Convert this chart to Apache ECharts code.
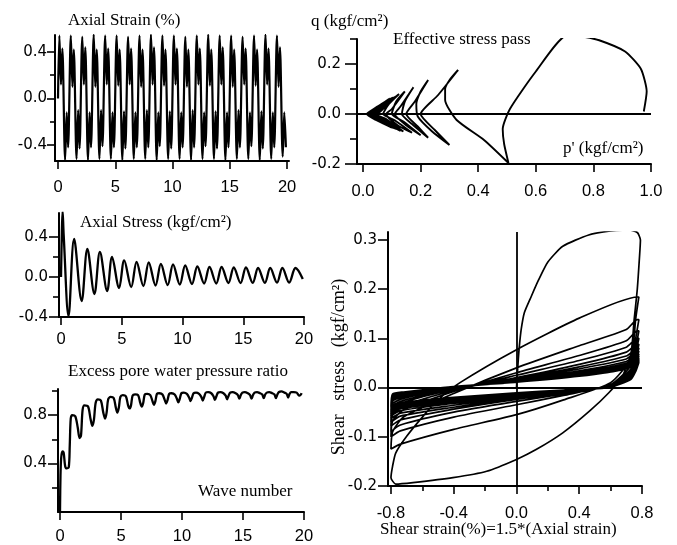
<!DOCTYPE html>
<html><head><meta charset="utf-8">
<script src="https://cdn.jsdelivr.net/npm/echarts/dist/echarts.min.js"></script>
<style>html,body{margin:0;padding:0;background:#fff}#c{width:677px;height:545px}</style>
</head><body><div id="c"></div>
<script>
// ---------- DATA ----------
// Panel 1: axial strain (%) vs wave number
const strainPts = [[0,0],
[0.12,0.54],[0.26,0.12],[0.38,0.43],[0.62,-0.53],[0.76,-0.12],[0.88,-0.42],
[1.12,0.54],[1.26,0.10],[1.38,0.42],[1.62,-0.52],[1.76,-0.10],[1.88,-0.43],
[2.12,0.53],[2.26,0.12],[2.38,0.44],[2.62,-0.53],[2.76,-0.12],[2.88,-0.42],
[3.12,0.55],[3.26,0.10],[3.38,0.42],[3.62,-0.52],[3.76,-0.10],[3.88,-0.41],
[4.12,0.54],[4.26,0.12],[4.38,0.43],[4.62,-0.52],[4.76,-0.12],[4.88,-0.42],
[5.12,0.54],[5.26,0.11],[5.38,0.42],[5.62,-0.53],[5.76,-0.11],[5.88,-0.43],
[6.12,0.53],[6.26,0.12],[6.38,0.43],[6.62,-0.52],[6.76,-0.12],[6.88,-0.42],
[7.12,0.54],[7.26,0.10],[7.38,0.42],[7.62,-0.52],[7.76,-0.10],[7.88,-0.42],
[8.12,0.55],[8.26,0.12],[8.38,0.44],[8.62,-0.53],[8.76,-0.12],[8.88,-0.41],
[9.12,0.54],[9.26,0.11],[9.38,0.42],[9.62,-0.52],[9.76,-0.11],[9.88,-0.43],
[10.12,0.54],[10.26,0.12],[10.38,0.43],[10.62,-0.52],[10.76,-0.12],[10.88,-0.42],
[11.12,0.53],[11.26,0.10],[11.38,0.42],[11.62,-0.53],[11.76,-0.10],[11.88,-0.42],
[12.12,0.54],[12.26,0.12],[12.38,0.43],[12.62,-0.52],[12.76,-0.12],[12.88,-0.41],
[13.12,0.55],[13.26,0.11],[13.38,0.42],[13.62,-0.52],[13.76,-0.11],[13.88,-0.43],
[14.12,0.54],[14.26,0.12],[14.38,0.44],[14.62,-0.53],[14.76,-0.12],[14.88,-0.42],
[15.12,0.54],[15.26,0.10],[15.38,0.42],[15.62,-0.52],[15.76,-0.10],[15.88,-0.42],
[16.12,0.53],[16.26,0.12],[16.38,0.43],[16.62,-0.52],[16.76,-0.12],[16.88,-0.41],
[17.12,0.54],[17.26,0.11],[17.38,0.42],[17.62,-0.53],[17.76,-0.11],[17.88,-0.43],
[18.12,0.55],[18.26,0.12],[18.38,0.43],[18.62,-0.52],[18.76,-0.12],[18.88,-0.42],
[19.12,0.54],[19.26,0.10],[19.38,0.44],[19.62,-0.50],[19.76,-0.12],[19.9,-0.42]];

// Panel 3: axial stress (kgf/cm2) vs wave number
const stressPts = [[0,0],[0.07,0.45],[0.13,0.66],[0.22,0.42],[0.62,-0.39],[1.08,0.38],[1.7,-0.24],
[2.17,0.28],[2.75,-0.17],[3.2,0.25],[3.8,-0.14],[4.2,0.2],[4.78,-0.11],[5.2,0.165],[5.78,-0.10],
[6.22,0.15],[6.78,-0.09],[7.22,0.145],[7.78,-0.085],[8.22,0.13],[8.78,-0.08],[9.22,0.125],[9.78,-0.075],
[10.22,0.115],[10.78,-0.07],[11.22,0.105],[11.78,-0.065],[12.22,0.10],[12.78,-0.065],[13.22,0.10],[13.78,-0.06],
[14.22,0.095],[14.78,-0.06],[15.22,0.095],[15.78,-0.058],[16.22,0.09],[16.78,-0.058],[17.22,0.09],[17.78,-0.056],
[18.22,0.09],[18.78,-0.055],[19.3,0.09],[19.9,-0.02]];

// Panel 4: excess pore water pressure ratio vs wave number
const porePts = [[0,0],[0.04,0.3],[0.1,0.45],[0.2,0.5],[0.3,0.49],[0.42,0.38],[0.55,0.36],[0.72,0.37],[0.8,0.55],
[0.88,0.77],[1.0,0.80],[1.25,0.79],[1.45,0.70],[1.6,0.61],[1.72,0.63],[1.85,0.84],[2.0,0.88],[2.3,0.87],
[2.5,0.77],[2.65,0.71],[2.78,0.76],[2.92,0.90],[3.1,0.93],[3.35,0.92],[3.55,0.82],[3.7,0.77],[3.82,0.82],
[3.95,0.93],[4.15,0.95],[4.4,0.94],[4.58,0.86],[4.7,0.82],[4.82,0.86],[4.95,0.95],[5.15,0.965],[5.4,0.955],
[5.58,0.88],[5.7,0.855],[5.82,0.88],[5.95,0.96],[6.15,0.97],[6.4,0.965],[6.58,0.9],[6.7,0.87],[6.82,0.9],
[6.95,0.97],[7.15,0.975],[7.4,0.965],[7.58,0.915],[7.7,0.885],[7.82,0.915],[7.95,0.975],[8.15,0.98],[8.4,0.97],
[8.58,0.925],[8.7,0.895],[8.82,0.925],[8.95,0.975],[9.15,0.98],[9.4,0.97],[9.58,0.935],[9.7,0.905],[9.82,0.935],
[9.95,0.98],[10.15,0.985],[10.4,0.975],[10.58,0.945],[10.7,0.915],[10.82,0.945],[10.95,0.98],[11.15,0.985],
[11.4,0.975],[11.58,0.95],[11.7,0.92],[11.82,0.95],[11.95,0.985],[12.15,0.99],[12.4,0.98],[12.58,0.955],
[12.7,0.925],[12.82,0.955],[12.95,0.985],[13.15,0.99],[13.4,0.98],[13.58,0.96],[13.7,0.93],[13.82,0.96],
[13.95,0.985],[14.15,0.99],[14.4,0.98],[14.58,0.965],[14.7,0.935],[14.82,0.965],[14.95,0.985],[15.15,0.99],
[15.4,0.98],[15.58,0.965],[15.7,0.935],[15.82,0.965],[15.95,0.985],[16.15,0.99],[16.4,0.98],[16.58,0.97],
[16.7,0.94],[16.82,0.97],[16.95,0.985],[17.15,0.99],[17.4,0.98],[17.58,0.97],[17.7,0.94],[17.82,0.97],
[17.95,0.99],[18.15,0.995],[18.4,0.985],[18.58,0.975],[18.7,0.945],[18.82,0.975],[18.95,0.99],[19.15,0.99],
[19.4,0.985],[19.6,0.96],[19.75,0.97],[19.8,0.98]];

// Panel 2: effective stress path (p', q)
const pathPts = [
[0.975,0.01],[0.985,0.09],[0.965,0.18],[0.91,0.25],[0.82,0.295],[0.76,0.31],[0.71,0.316],
[0.60,0.17],[0.51,0.02],[0.485,-0.06],[0.49,-0.12],[0.505,-0.196],
[0.42,-0.104],[0.325,-0.024],[0.285,0.056],[0.285,0.10],[0.30,0.135],[0.33,0.176],
[0.26,0.075],[0.20,0.0],[0.25,-0.065],[0.30,-0.124],
[0.24,-0.07],[0.19,-0.01],[0.185,0.04],[0.20,0.09],[0.226,0.136],
[0.18,0.05],[0.15,0.0],[0.19,-0.05],[0.226,-0.095],
[0.17,-0.04],[0.135,0.0],[0.145,0.05],[0.175,0.107],
[0.13,0.03],[0.11,0.0],[0.15,-0.045],[0.20,-0.085],
[0.14,-0.03],[0.10,0.0],[0.115,0.05],[0.145,0.09],
[0.10,0.02],[0.08,0.0],[0.12,-0.045],[0.17,-0.075],
[0.11,-0.025],[0.07,0.0],[0.09,0.04],[0.125,0.08],
[0.06,0.01],[0.05,0.0],[0.09,-0.04],[0.14,-0.07],
[0.08,-0.02],[0.045,0.0],[0.08,0.04],[0.12,0.075],
[0.05,0.01],[0.04,0.0],[0.08,-0.035],[0.13,-0.068],
[0.07,-0.02],[0.035,0.0],[0.07,0.035],[0.115,0.07],
[0.04,0.005],[0.03,0.0],[0.07,-0.03],[0.125,-0.065],
[0.06,-0.015],[0.028,0.0],[0.065,0.035],[0.11,0.068],
[0.035,0.005],[0.025,0.0],[0.065,-0.03],[0.12,-0.062],
[0.055,-0.015],[0.022,0.0],[0.06,0.033],[0.105,0.066],
[0.03,0.005],[0.02,0.0],[0.06,-0.03],[0.115,-0.06],
[0.05,-0.012],[0.018,0.0],[0.055,0.03],[0.10,0.064],
[0.028,0.004],[0.016,0.0],[0.055,-0.028],[0.11,-0.058],
[0.045,-0.01],[0.015,0.0],[0.05,0.03],[0.095,0.062],
[0.025,0.003],[0.014,0.0],[0.05,-0.027],[0.105,-0.056],
[0.04,-0.01],[0.013,0.0],[0.05,0.028],[0.09,0.06],
[0.022,0.003],[0.013,0.0],[0.05,-0.026],[0.10,-0.055],
[0.04,-0.008],[0.013,0.0],[0.045,0.025],[0.085,0.055],
[0.02,0.003],[0.013,0.0],[0.045,-0.024],[0.095,-0.052],
[0.035,-0.006],[0.013,0.0],[0.04,0.022],[0.08,0.05],
[0.02,0.002],[0.013,0.0]];

// Panel 5: shear stress vs shear strain, first loading + first unloading + reloading
const hystFirst = [[0,0],[0.01,0.05],[0.018,0.083],[0.03,0.118],[0.05,0.152],[0.094,0.185],[0.14,0.218],
[0.2,0.255],[0.295,0.287],[0.46,0.31],[0.6,0.318],[0.72,0.32],[0.77,0.315],[0.79,0.30],[0.785,0.27],
[0.77,0.2],[0.75,0.138],[0.73,0.07],[0.675,0.023],[0.59,-0.01],[0.465,-0.048],[0.295,-0.092],[0.125,-0.126],
[0,-0.146],[-0.19,-0.17],[-0.405,-0.183],[-0.66,-0.193],[-0.77,-0.196],[-0.8,-0.183],[-0.79,-0.16],
[-0.77,-0.133],[-0.70,-0.099],[-0.6,-0.06],[-0.5,-0.025],[-0.36,0.01],[0,0.077],[0.4,0.141],[0.77,0.184]];
// later loops: stress read at fixed strain stations
const downStrain = [0.78, 0.76, 0.73, 0.60, 0.30, 0.00, -0.40, -0.74, -0.80];
const upStrain = [-0.79, -0.72, -0.40, 0.00, 0.40, 0.70, 0.77];
const loopDown = [
[0.184,0.14,0.06,0.01,-0.025,-0.055,-0.085,-0.115,-0.125],
[0.138,0.10,0.045,0.006,-0.016,-0.035,-0.06,-0.088,-0.10],
[0.115,0.08,0.038,0.005,-0.013,-0.028,-0.05,-0.076,-0.09],
[0.10,0.07,0.033,0.004,-0.012,-0.024,-0.044,-0.066,-0.078],
[0.088,0.06,0.03,0.004,-0.011,-0.021,-0.04,-0.058,-0.07],
[0.08,0.054,0.027,0.003,-0.01,-0.019,-0.036,-0.052,-0.063],
[0.074,0.05,0.025,0.003,-0.009,-0.017,-0.032,-0.047,-0.058],
[0.068,0.046,0.023,0.002,-0.008,-0.016,-0.029,-0.043,-0.054],
[0.064,0.043,0.022,0.002,-0.008,-0.015,-0.027,-0.04,-0.05],
[0.06,0.04,0.021,0.002,-0.007,-0.014,-0.025,-0.038,-0.048],
[0.058,0.038,0.02,0.001,-0.007,-0.013,-0.024,-0.036,-0.046],
[0.056,0.037,0.019,0.001,-0.007,-0.013,-0.023,-0.035,-0.044],
[0.055,0.036,0.019,0.001,-0.006,-0.012,-0.022,-0.034,-0.043],
[0.054,0.035,0.018,0.001,-0.006,-0.012,-0.022,-0.033,-0.042],
[0.053,0.035,0.018,0.001,-0.006,-0.012,-0.021,-0.033,-0.041],
[0.052,0.034,0.018,0.001,-0.006,-0.011,-0.021,-0.032,-0.04],
[0.052,0.034,0.017,0.001,-0.005,-0.011,-0.021,-0.032,-0.04],
[0.051,0.033,0.017,0.001,-0.005,-0.011,-0.02,-0.031,-0.039]];
const loopUp = [
[-0.09,-0.06,-0.012,0.04,0.085,0.118,0.138],
[-0.068,-0.045,-0.008,0.03,0.065,0.095,0.115],
[-0.055,-0.036,-0.006,0.025,0.055,0.082,0.10],
[-0.045,-0.03,-0.004,0.02,0.047,0.072,0.088],
[-0.038,-0.026,-0.003,0.018,0.042,0.064,0.08],
[-0.033,-0.022,-0.002,0.016,0.038,0.058,0.074],
[-0.028,-0.019,-0.001,0.015,0.034,0.053,0.068],
[-0.025,-0.017,0,0.014,0.031,0.049,0.064],
[-0.022,-0.015,0,0.013,0.029,0.046,0.06],
[-0.02,-0.014,0.001,0.012,0.027,0.044,0.058],
[-0.018,-0.013,0.001,0.012,0.026,0.042,0.056],
[-0.017,-0.012,0.001,0.011,0.025,0.041,0.055],
[-0.016,-0.011,0.002,0.011,0.025,0.04,0.054],
[-0.015,-0.011,0.002,0.011,0.024,0.04,0.053],
[-0.015,-0.01,0.002,0.011,0.024,0.039,0.052],
[-0.014,-0.01,0.002,0.011,0.024,0.039,0.052],
[-0.014,-0.01,0.002,0.011,0.023,0.038,0.051],
[-0.013,-0.009,0.002,0.011,0.023,0.038,0.05]];

// tick values
const waveTicks = [0,5,10,15,20];
const strainTicks = [-0.4,0,0.4], strainMinor = [-0.2,0.2];
const pTicks = [0,0.2,0.4,0.6,0.8,1.0];
const qTicks = [-0.2,0,0.2], qMinor = [-0.1,0.1,0.3];
const stressTicks = [-0.4,0,0.4], stressMinor = [-0.2,0.2];
const poreTicks = [0.4,0.8], poreMinor = [0.2,0.6,1.0];
const gTicks = [-0.8,-0.4,0,0.4,0.8], gMinor = [-0.6,-0.2,0.2,0.6];
const tauTicks = [-0.2,-0.1,0,0.1,0.2,0.3];

// ---------- build ----------
const hystPts = hystFirst.slice();
for (let i = 0; i < loopDown.length; i++) {
  loopDown[i].forEach((v, j) => hystPts.push([downStrain[j], v]));
  if (i < loopUp.length) loopUp[i].forEach((v, j) => hystPts.push([upStrain[j], v]));
}

const K = '#000';
const SANS = 'Liberation Sans', YSANS = 'DejaVu Sans';
const f1 = v => v.toFixed(1), f0 = v => String(Math.round(v));

function ax(gi, pos, min, max, ticks, fmt, tickLen, margin, isY) {
  return {
    gridIndex: gi, type: 'value', position: pos, min: min, max: max,
    axisLine: { show: true, onZero: false, lineStyle: { color: K, width: 2 } },
    axisTick: { show: true, customValues: ticks, length: tickLen, lineStyle: { color: K, width: 1.6 } },
    axisLabel: { show: true, customValues: ticks, formatter: fmt, color: K,
      fontFamily: isY ? YSANS : SANS, fontSize: isY ? 15 : 16.5, margin: margin },
    splitLine: { show: false }
  };
}
function minor(gi, pos, min, max, ticks, tickLen) {
  return {
    gridIndex: gi, type: 'value', position: pos, min: min, max: max,
    axisLine: { show: false, onZero: false },
    axisTick: { show: true, customValues: ticks, length: tickLen, lineStyle: { color: K, width: 1.6 } },
    axisLabel: { show: false }, splitLine: { show: false }
  };
}

const xAxis = [
  ax(0, 'bottom', -0.262, 20.17, waveTicks, f0, 8, 18, false),
  ax(1, 'bottom', -0.021, 1.0, pTicks, f1, 8, 19, false),
  ax(2, 'bottom', -0.165, 20, waveTicks, f0, 8, 14, false),
  ax(3, 'bottom', -0.164, 20, waveTicks, f0, 8, 16, false),
  ax(4, 'bottom', -0.819, 0.8, gTicks, f1, 8, 19, false),
  minor(4, 'bottom', -0.819, 0.8, gMinor, 5)
];
const yAxis = [
  ax(0, 'left', -0.538, 0.546, strainTicks, f1, 8, 8, true),
  ax(1, 'left', -0.2, 0.3, qTicks, f1, 12, 16, true),
  ax(2, 'left', -0.4, 0.64, stressTicks, f1, 10, 11, true),
  ax(3, 'left', 0, 1.015, poreTicks, f1, 10, 11, true),
  ax(4, 'left', -0.2, 0.316, tauTicks, f1, 10, 11, true),
  minor(0, 'left', -0.538, 0.546, strainMinor, 5),
  minor(1, 'left', -0.2, 0.3, qMinor, 7),
  minor(2, 'left', -0.4, 0.64, stressMinor, 6),
  minor(3, 'left', 0, 1.015, poreMinor, 6)
];

function line(xi, yi, data, w, smooth, extra) {
  return Object.assign({
    type: 'line', xAxisIndex: xi, yAxisIndex: yi, data: data, showSymbol: false, symbol: 'none',
    smooth: smooth, lineStyle: { color: K, width: w }, silent: true, animation: false, clip: true
  }, extra || {});
}
const zeroLine = (items) => ({ symbol: 'none', silent: true, animation: false,
  label: { show: false }, lineStyle: { color: K, type: 'solid', width: 1.8 }, data: items });

const FONT = '17px "Liberation Serif"';
const txt = (s, x, y) => ({ type: 'text', x: x, y: y,
  style: { text: s, font: FONT, fill: K, textAlign: 'left', textVerticalAlign: 'middle' } });

const option = {
  backgroundColor: '#fff', animation: false,
  grid: [
    { left: 55, top: 35, width: 234, height: 126 },
    { left: 357, top: 39, width: 294, height: 125 },
    { left: 59, top: 213, width: 245, height: 104 },
    { left: 58, top: 389, width: 246, height: 123 },
    { left: 388, top: 232, width: 254, height: 254 }
  ],
  xAxis: xAxis, yAxis: yAxis,
  series: [
    line(0, 0, strainPts, 2.2, 0.3),
    line(1, 1, pathPts, 1.9, 0.2, { markLine: zeroLine([{ yAxis: 0 }]) }),
    line(2, 2, stressPts, 2.3, 0.35),
    line(3, 3, porePts, 2.3, 0.3),
    line(4, 4, hystPts, 1.7, 0.2, { markLine: zeroLine([{ yAxis: 0 }, { xAxis: 0 }]) })
  ],
  graphic: [
    txt('Axial Strain (%)', 68, 21),
    txt('q (kgf/cm²)', 311, 22),
    txt('Effective stress pass', 393, 40),
    txt("p' (kgf/cm²)", 563, 149),
    txt('Axial Stress (kgf/cm²)', 80, 223),
    txt('Excess pore water pressure ratio', 68, 372),
    txt('Wave number', 198, 492),
    txt('Shear strain(%)=1.5*(Axial strain)', 380, 530),
    { type: 'text', x: 339, y: 367, rotation: Math.PI / 2,
      style: { text: 'Shear   stress   (kgf/cm²)', font: '18px "Liberation Serif"', fill: K,
        textAlign: 'center', textVerticalAlign: 'middle' } }
  ]
};
const chart = echarts.init(document.getElementById('c'));
chart.setOption(option);
</script></body></html>
